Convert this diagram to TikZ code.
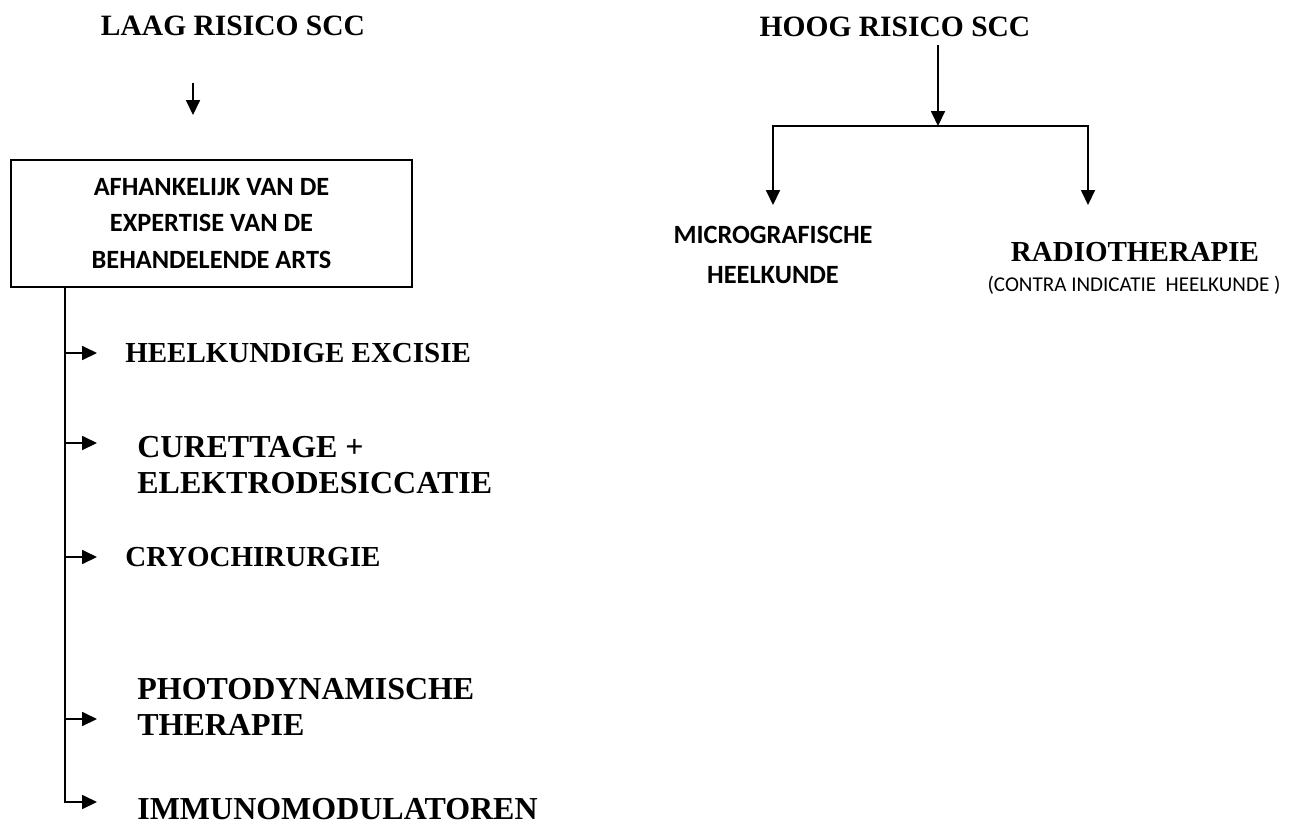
\documentclass[tikz,border=0pt]{standalone}
\usepackage{fontspec}
\setmainfont{Liberation Serif}
\newfontfamily\calibri{Carlito}
\usetikzlibrary{arrows.meta,positioning}

\begin{document}
\begin{tikzpicture}[x=0.02cm,y=-0.02cm,
  title/.style={inner sep=0pt,font=\fontsize{16.8}{20}\selectfont\bfseries},
  item/.style={inner sep=0pt,anchor=west,align=left,
               font=\fontsize{16.5}{20.4}\selectfont\bfseries},
  bigitem/.style={item,font=\fontsize{18.2}{20.6}\selectfont\bfseries},
  box/.style={draw,line width=1.1pt,minimum width=8.02cm,minimum height=2.54cm,
              align=center,font=\calibri\fontsize{15}{21}\selectfont\bfseries},
  arr/.style={-{Triangle[length=8.5pt,width=8pt]},line width=0.8pt}]
\useasboundingbox (0,0) rectangle (1301,825);
% low risk column
\node[title](laag) at (233,26) {LAAG RISICO SCC};
\coordinate (l0) at (193,83);
\coordinate (l1) at (193,115);
\draw[arr](l0)--(l1);
\node[box](expert) at (211.5,223.5)
  {AFHANKELIJK VAN DE\\EXPERTISE VAN DE\\BEHANDELENDE ARTS};
\coordinate (trunk) at (65,287);
\node[item](excisie) at (125,353) {HEELKUNDIGE EXCISIE};
\node[bigitem](curet) at (137,465) {CURETTAGE +\\ELEKTRODESICCATIE};
\node[item](cryo) at (125,557) {CRYOCHIRURGIE};
\node[bigitem](photo) at (137,706.5) {PHOTODYNAMISCHE\\THERAPIE};
\node[bigitem](immuno) at (137,809) {IMMUNOMODULATOREN};
\coordinate (a1) at (97,353);
\coordinate (a2) at (97,443);
\coordinate (a3) at (97,557);
\coordinate (a4) at (97,719);
\coordinate (a5) at (97,802);
\draw[arr](trunk)|-(a5);
\foreach \a in {a1,a2,a3,a4}
  \draw[arr](trunk|-\a)--(\a);
% high risk column
\node[title](hoog) at (895,27) {HOOG RISICO SCC};
\coordinate (h0) at (938,45);
\coordinate (split) at (938,126);
\coordinate (ml) at (773,205);
\coordinate (mr) at (1088,205);
\draw[arr](h0)--(split);
\draw[arr](split)-|(ml);
\draw[arr](split)-|(mr);
\node[inner sep=0pt,align=center,font=\calibri\fontsize{15}{22.7}\selectfont\bfseries]
  (micro) at (773,255) {MICROGRAFISCHE\\HEELKUNDE};
\node[inner sep=0pt,font=\fontsize{16.5}{20}\selectfont\bfseries](radio) at (1135,252)
  {RADIOTHERAPIE};
\node[inner sep=0pt,font=\calibri\fontsize{12}{14}\selectfont](contra) at (1134,285)
  {(CONTRA INDICATIE\ \ HEELKUNDE )};
\end{tikzpicture}
\end{document}
